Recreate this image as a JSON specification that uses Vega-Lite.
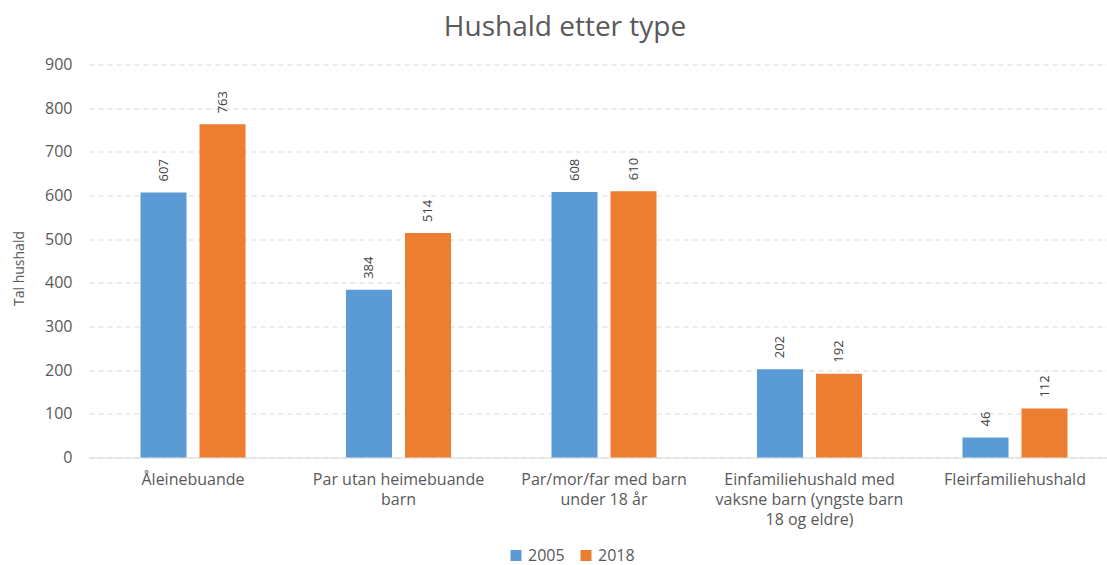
{
  "$schema": "https://vega.github.io/schema/vega-lite/v6.json",
  "width": 1018,
  "height": 393,
  "autosize": "none",
  "padding": {"left": 89, "top": 64.5, "right": 0, "bottom": 107.5},
  "background": "white",
  "title": {
    "text": "Hushald etter type",
    "font": "Open Sans",
    "fontSize": 28,
    "fontWeight": "normal",
    "color": "#595959",
    "anchor": "middle",
    "frame": "group",
    "baseline": "alphabetic",
    "dx": -33,
    "dy": 27,
    "offset": 20
  },
  "config": {
    "view": {"stroke": null},
    "font": "Open Sans"
  },
  "data": {
    "values": [
      {"type": "Åleinebuande", "year": "2005", "value": 607},
      {"type": "Åleinebuande", "year": "2018", "value": 763},
      {"type": "Par utan heimebuande barn", "year": "2005", "value": 384},
      {"type": "Par utan heimebuande barn", "year": "2018", "value": 514},
      {"type": "Par/mor/far med barn under 18 år", "year": "2005", "value": 608},
      {"type": "Par/mor/far med barn under 18 år", "year": "2018", "value": 610},
      {"type": "Einfamiliehushald med vaksne barn (yngste barn 18 og eldre)", "year": "2005", "value": 202},
      {"type": "Einfamiliehushald med vaksne barn (yngste barn 18 og eldre)", "year": "2018", "value": 192},
      {"type": "Fleirfamiliehushald", "year": "2005", "value": 46},
      {"type": "Fleirfamiliehushald", "year": "2018", "value": 112}
    ]
  },
  "encoding": {
    "x": {
      "field": "type",
      "type": "nominal",
      "sort": null,
      "scale": {"paddingInner": 0.489, "paddingOuter": 0.2214, "align": 0.566},
      "axis": {
        "title": null,
        "labelAngle": 0,
        "ticks": false,
        "domainColor": "#D9D9D9",
        "domainWidth": 1,
        "labelFont": "Open Sans",
        "labelFontSize": 16,
        "labelColor": "#595959",
        "labelPadding": 14,
        "labelLineHeight": 20,
        "labelLimit": 0,
        "labelOverlap": false,
        "labelBound": false,
        "labelExpr": "datum.value == 'Par utan heimebuande barn' ? ['Par utan heimebuande', 'barn'] : datum.value == 'Par/mor/far med barn under 18 år' ? ['Par/mor/far med barn', 'under 18 år'] : datum.value == 'Einfamiliehushald med vaksne barn (yngste barn 18 og eldre)' ? ['Einfamiliehushald med', 'vaksne barn (yngste barn', '18 og eldre)'] : datum.value"
      }
    },
    "xOffset": {
      "field": "year",
      "type": "nominal",
      "scale": {"paddingInner": 0.22, "paddingOuter": 0}
    },
    "y": {
      "field": "value",
      "type": "quantitative",
      "scale": {"domain": [0, 900], "nice": false},
      "axis": {
        "values": [0, 100, 200, 300, 400, 500, 600, 700, 800, 900],
        "grid": true,
        "gridColor": "#D9D9D9",
        "gridDash": [5, 4],
        "domain": false,
        "ticks": false,
        "labelPadding": 17,
        "labelFont": "Open Sans",
        "labelFontSize": 16,
        "labelColor": "#595959",
        "title": "Tal hushald",
        "titleFont": "Open Sans",
        "titleFontSize": 14,
        "titleFontWeight": "normal",
        "titleColor": "#595959",
        "titleAngle": 270,
        "titleX": -70,
        "titleY": 203.5,
        "titleAlign": "center",
        "titleBaseline": "middle"
      }
    }
  },
  "layer": [
    {
      "mark": {"type": "bar"},
      "encoding": {
        "color": {
          "field": "year",
          "type": "nominal",
          "scale": {"range": ["#5B9BD5", "#ED7D31"]},
          "legend": {
            "title": null,
            "orient": "none",
            "direction": "horizontal",
            "legendX": 419,
            "legendY": 483,
            "padding": 0,
            "symbolType": "square",
            "symbolSize": 121,
            "symbolStrokeWidth": 0,
            "labelFont": "Open Sans",
            "labelFontSize": 16,
            "labelColor": "#595959",
            "labelOffset": 4,
            "columnPadding": 13
          }
        }
      }
    },
    {
      "mark": {
        "type": "text",
        "angle": 270,
        "align": "left",
        "baseline": "middle",
        "dx": 11,
        "font": "Open Sans",
        "fontSize": 13,
        "color": "#404040"
      },
      "encoding": {
        "text": {"field": "value", "type": "quantitative"}
      }
    }
  ]
}
